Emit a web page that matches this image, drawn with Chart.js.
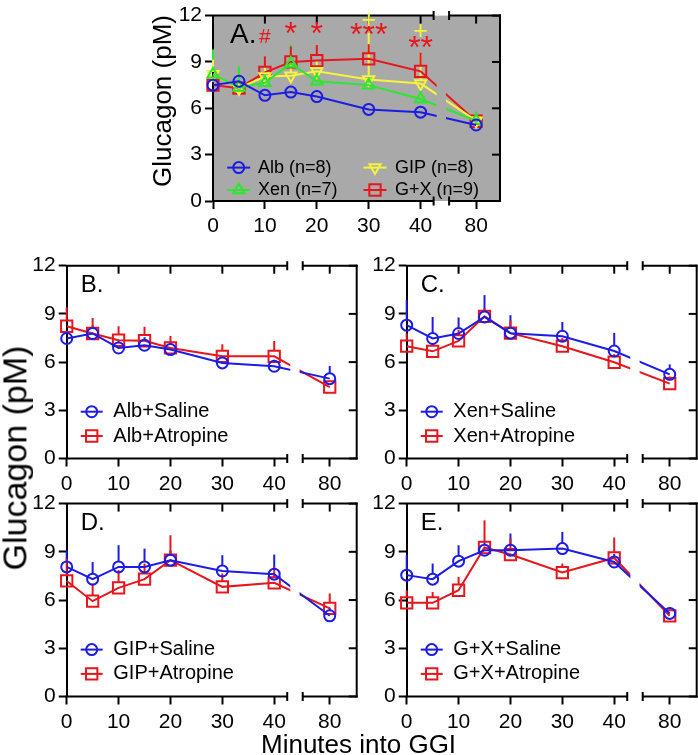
<!DOCTYPE html>
<html>
<head>
<meta charset="utf-8">
<script src="https://cdn.jsdelivr.net/npm/chart.js@4.4.1/dist/chart.umd.min.js"></script>
<style>
html,body{margin:0;padding:0;background:#fff;}
body{width:698px;height:755px;position:relative;overflow:hidden;}
canvas{position:absolute;}
.title{position:absolute;font-family:"Liberation Sans",Arial,Helvetica,sans-serif;color:#000;white-space:nowrap;line-height:1;}
</style>
</head>
<body>
<canvas id="chartA"></canvas>
<canvas id="chartB"></canvas>
<canvas id="chartC"></canvas>
<canvas id="chartD"></canvas>
<canvas id="chartE"></canvas>
<div class="title" id="yTitleA">Glucagon (pM)</div>
<div class="title" id="yTitleLow">Glucagon (pM)</div>
<div class="title" id="xTitle">Minutes into GGI</div>
<script>
// ---------------- DATA ----------------
const TIMES = [0, 5, 10, 15, 20, 30, 40, 80];
const X_TICKS = [0, 10, 20, 30, 40, 80];
const Y_TICKS = [0, 3, 6, 9, 12];

// Panel A
const albA = [7.5, 7.75, 6.84, 7.05, 6.76, 5.93, 5.75, 4.92];
const albA_err = [0.4, 0.4, 0.4, 0.4, 0.4, 0.4, 0.4, 0.4];
const xenA = [8.2, 7.35, 7.65, 8.9, 7.75, 7.5, 6.6, 5.2];
const xenA_err = [1.6, 1.35, 0.6, 1.2, 0.7, 0.6, 0.6, 0.6];
const gipA = [8.2, 7.3, 8.06, 8.1, 8.39, 7.87, 7.6, 5.2];
const gipA_err = [0.95, 0.5, 0.7, 0.9, 0.7, 3.0, 1.9, 0.4];
const gxA = [7.5, 7.3, 8.33, 9.0, 9.09, 9.2, 8.39, 5.16];
const gxA_err = [0.6, 0.5, 1.03, 1.0, 1.0, 0.95, 1.2, 0.4];
// significance marks in panel A: time, value level, text, series
const sigTimes = [10, 15, 20, 30, 40, 30, 40];
const sigLevels = [10.25, 10.19, 10.19, 10.07, 9.24, 11.2, 10.47];
const sigTexts = ['#', '*', '*', '***', '**', '+', '+'];
const sigSeries = ['gx', 'gx', 'gx', 'gx', 'gx', 'gip', 'gip'];

// Panel B
const albSal = [7.47, 7.78, 6.88, 7.05, 6.78, 5.95, 5.74, 4.97];
const albSal_err = [0.5, 0.5, 0.5, 0.5, 0.5, 0.4, 0.4, 0.79];
const albAtr = [8.23, 7.78, 7.36, 7.33, 6.88, 6.36, 6.36, 4.45];
const albAtr_err = [1.17, 0.97, 0.87, 0.87, 0.75, 0.75, 0.96, 0.4];
// Panel C
const xenSal = [8.3, 7.47, 7.78, 8.81, 7.8, 7.61, 6.69, 5.24];
const xenSal_err = [1.56, 1.34, 1.0, 1.36, 1.12, 0.89, 1.13, 0.62];
const xenAtr = [6.99, 6.67, 7.32, 8.85, 7.8, 6.99, 5.99, 4.66];
const xenAtr_err = [0.8, 0.5, 0.7, 0.5, 0.8, 0.5, 0.5, 0.45];
// Panel D
const gipSal = [8.06, 7.3, 8.06, 8.06, 8.48, 7.81, 7.61, 5.02];
const gipSal_err = [1.04, 1.07, 1.35, 1.14, 0.6, 0.98, 1.22, 0.5];
const gipAtr = [7.19, 5.93, 6.76, 7.3, 8.48, 6.82, 7.07, 5.48];
const gipAtr_err = [1.39, 1.1, 1.1, 0.97, 1.55, 0.83, 0.99, 0.93];
// Panel E
const gxSal = [7.55, 7.3, 8.42, 9.1, 9.1, 9.2, 8.37, 5.17];
const gxSal_err = [1.24, 0.97, 0.99, 0.5, 1.04, 1.04, 0.5, 0.4];
const gxAtr = [5.83, 5.83, 6.61, 9.27, 8.83, 7.71, 8.62, 5.02];
const gxAtr_err = [0.78, 0.67, 0.83, 1.69, 1.0, 0.56, 1.27, 0.4];

// ---------------- STYLE / LAYOUT ----------------
const FONT = '"Liberation Sans", Arial, Helvetica, sans-serif';
const BLUE = '#1c1ce6', RED = '#e8161c', GREEN = '#2ae82a', YELLOW = '#f4f43c';
const GRAY = '#a9a9a9';
const BREAK_POS = 50.7;         // axis position of the 80-min point after the break
const AXIS_GAP = [42.7, 45.3];  // axis break
const LINE_GAP = [43.1, 44.9];  // gap in connecting lines
function xPos(t) { return t > 40 ? BREAK_POS : t; }
function labelFor(v) {
  for (const t of X_TICKS) if (Math.abs(xPos(t) - v) < 1e-6) return String(t);
  return '';
}

function ds(label, values, errs, color, style, rot, radius) {
  return {
    label, errs,
    data: TIMES.map((t, i) => ({ x: xPos(t), y: values[i] })),
    borderColor: color, backgroundColor: 'rgba(0,0,0,0)',
    pointBorderColor: color, pointBackgroundColor: 'rgba(0,0,0,0)',
    pointStyle: style, pointRotation: rot || 0, pointRadius: radius,
    pointBorderWidth: 2, borderWidth: 2, tension: 0, clip: false, fill: false
  };
}

function markerTopOffset(d) {
  if (d.pointStyle === 'rect') return d.pointRadius * Math.SQRT1_2;
  if (d.pointStyle === 'triangle') return d.pointRotation ? d.pointRadius * 0.5 : d.pointRadius;
  return d.pointRadius;
}

function drawMarker(c, style, rot, r, x, y) {
  c.beginPath();
  if (style === 'circle') {
    c.arc(x, y, r, 0, Math.PI * 2);
  } else if (style === 'rect') {
    const s = r * Math.SQRT1_2;
    c.rect(x - s, y - s, 2 * s, 2 * s);
  } else if (style === 'triangle') {
    let a = (rot || 0) * Math.PI / 180;
    for (let k = 0; k < 3; k++) {
      const px = x + Math.sin(a) * r, py = y - Math.cos(a) * r;
      if (k === 0) c.moveTo(px, py); else c.lineTo(px, py);
      a += Math.PI * 2 / 3;
    }
    c.closePath();
  }
  c.stroke();
}

const framePlugin = {
  id: 'frame',
  beforeDraw(chart, args, o) {
    if (o.bg) {
      const a = chart.chartArea, c = chart.ctx;
      c.save(); c.fillStyle = o.bg;
      c.fillRect(a.left, a.top, a.right - a.left, a.bottom - a.top);
      c.restore();
    }
  },
  beforeDatasetsDraw(chart) {
    const c = chart.ctx, ys = chart.scales.y, xs = chart.scales.x;
    chart.data.datasets.forEach((d, i) => {
      const meta = chart.getDatasetMeta(i);
      c.save(); c.strokeStyle = d.borderColor; c.lineWidth = 2;
      meta.data.forEach((pt, j) => {
        const top = ys.getPixelForValue(d.data[j].y + d.errs[j]);
        const start = pt.y - markerTopOffset(d);
        if (top < start) { c.beginPath(); c.moveTo(pt.x, start); c.lineTo(pt.x, top); c.stroke(); }
      });
      c.restore();
    });
    const g1 = xs.getPixelForValue(LINE_GAP[0]), g2 = xs.getPixelForValue(LINE_GAP[1]);
    c.save();
    c.beginPath();
    c.rect(0, 0, g1, chart.height);
    c.rect(g2, 0, chart.width - g2, chart.height);
    c.clip();
  },
  afterDatasetsDraw(chart) { chart.ctx.restore(); },
  afterDraw(chart, args, o) {
    const c = chart.ctx, a = chart.chartArea, xs = chart.scales.x, ys = chart.scales.y;
    const g1 = xs.getPixelForValue(AXIS_GAP[0]), g2 = xs.getPixelForValue(AXIS_GAP[1]);
    c.save();
    c.strokeStyle = '#000'; c.lineWidth = 2; c.lineCap = 'butt';
    // bottom & top axes with break
    [a.bottom, a.top].forEach((y, idx) => {
      c.beginPath();
      c.moveTo(a.left - 1, y); c.lineTo(g1, y);
      c.moveTo(g2, y); c.lineTo(a.right + 1, y);
      c.moveTo(g1 - 1, y - 4.5); c.lineTo(g1 - 1, y + 4.5);
      c.moveTo(g2 + 1, y - 4.5); c.lineTo(g2 + 1, y + 4.5);
      c.stroke();
      if (idx === 1) {
        X_TICKS.forEach(t => {
          const x = xs.getPixelForValue(xPos(t));
          if (t === 0) return;
          c.beginPath(); c.moveTo(x, y); c.lineTo(x, y + 8); c.stroke();
        });
      }
    });
    // right axis with inward ticks
    c.beginPath(); c.moveTo(a.right, a.top - 1); c.lineTo(a.right, a.bottom + 1); c.stroke();
    Y_TICKS.forEach(v => {
      const y = ys.getPixelForValue(v);
      c.beginPath(); c.moveTo(a.right - 8, y); c.lineTo(a.right, y); c.stroke();
    });
    // panel label
    c.fillStyle = '#000';
    c.font = o.labelSize + 'px ' + FONT;
    c.textBaseline = 'alphabetic'; c.textAlign = 'left';
    c.fillText(o.label, a.left + o.labelDx, a.top + o.labelDy);
    // legend
    c.font = o.legendSize + 'px ' + FONT;
    c.textBaseline = 'middle';
    chart.data.datasets.forEach((d, i) => {
      const it = o.legendItems[i];
      const mx = a.left + it[0], ty = a.top + it[2], tx = a.left + it[1];
      c.strokeStyle = d.borderColor; c.lineWidth = 2;
      c.beginPath(); c.moveTo(mx - o.legendHalf, ty); c.lineTo(mx + o.legendHalf, ty); c.stroke();
      drawMarker(c, d.pointStyle, d.pointRotation, d.pointRadius, mx, ty);
      c.fillStyle = '#000';
      c.fillText(d.label, tx, ty);
    });
    // significance marks
    if (o.sig) {
      c.textAlign = 'center'; c.textBaseline = 'alphabetic';
      sigTimes.forEach((t, k) => {
        const isGip = sigSeries[k] === 'gip';
        const txt = sigTexts[k];
        const size = txt === '#' ? 21 : (txt === '+' ? 25 : 32);
        c.font = size + 'px ' + FONT;
        c.fillStyle = isGip ? YELLOW : RED;
        c.fillText(txt, xs.getPixelForValue(xPos(t)), ys.getPixelForValue(sigLevels[k]));
      });
    }
    c.restore();
  }
};

function build(id, cv, ar, datasets, frame) {
  const el = document.getElementById(id);
  el.width = cv[2]; el.height = cv[3];
  el.style.left = cv[0] + 'px'; el.style.top = cv[1] + 'px';
  el.style.width = cv[2] + 'px'; el.style.height = cv[3] + 'px';
  const leftW = ar[0] - cv[0], topP = ar[1] - cv[1], rightP = cv[0] + cv[2] - ar[2], botH = cv[1] + cv[3] - ar[3];
  return new Chart(el, {
    type: 'line',
    data: { datasets },
    options: {
      responsive: false, animation: false, devicePixelRatio: 1,
      layout: { padding: { left: 0, top: topP, right: rightP, bottom: 0 }, autoPadding: false },
      plugins: { legend: { display: false }, tooltip: { enabled: false }, frame },
      scales: {
        x: {
          type: 'linear', min: 0, max: frame.xMax,
          afterBuildTicks: s => { s.ticks = X_TICKS.map(t => ({ value: xPos(t) })); },
          afterFit: s => { s.height = botH; },
          ticks: { callback: v => labelFor(v), font: { family: FONT, size: 21 }, color: '#000', padding: 5, maxRotation: 0, autoSkip: false },
          grid: { display: true, drawOnChartArea: false, drawTicks: true, tickLength: 8, tickWidth: 2, tickColor: '#000' },
          border: { display: false }
        },
        y: {
          type: 'linear', min: 0, max: 12,
          afterBuildTicks: s => { s.ticks = Y_TICKS.map(v => ({ value: v })); },
          afterFit: s => { s.width = leftW; },
          ticks: { font: { family: FONT, size: 21 }, color: '#000', padding: 3 },
          grid: { display: true, drawOnChartArea: false, drawTicks: true, tickLength: 8, tickWidth: 2, tickColor: '#000' },
          border: { display: true, color: '#000', width: 2 }
        }
      }
    },
    plugins: [framePlugin]
  });
}

const lowLegend = [[25, 46.6, 146], [25, 46.6, 170.3]];
function lowFrame(label) {
  return { xMax: 55.9, label, labelSize: 24, labelDx: 14, labelDy: 26, legendSize: 20, legendHalf: 11, legendItems: lowLegend };
}

build('chartA', [165, 0, 345, 240], [213, 7.3, 500, 201], [
  ds('Alb (n=8)', albA, albA_err, BLUE, 'circle', 0, 5.5),
  ds('Xen (n=7)', xenA, xenA_err, GREEN, 'triangle', 0, 6.5),
  ds('GIP (n=8)', gipA, gipA_err, YELLOW, 'triangle', 180, 6.5),
  ds('G+X (n=9)', gxA, gxA_err, RED, 'rect', 0, 8)
], { xMax: 55.3, bg: GRAY, label: 'A.', labelSize: 28, labelDx: 17, labelDy: 27.7, legendSize: 18, legendHalf: 11.5,
     legendItems: [[25.7, 45, 152], [25.7, 45, 174.4], [162, 182, 152], [162, 182, 174.4]], sig: true });

build('chartB', [15, 250, 350, 248], [66.7, 265.7, 356.7, 458.5], [
  ds('Alb+Saline', albSal, albSal_err, BLUE, 'circle', 0, 5.5),
  ds('Alb+Atropine', albAtr, albAtr_err, RED, 'rect', 0, 8)
], lowFrame('B.'));

build('chartC', [360, 250, 338, 248], [406.7, 265.7, 696.7, 458.5], [
  ds('Xen+Saline', xenSal, xenSal_err, BLUE, 'circle', 0, 5.5),
  ds('Xen+Atropine', xenAtr, xenAtr_err, RED, 'rect', 0, 8)
], lowFrame('C.'));

build('chartD', [15, 488, 350, 246], [66.7, 503.3, 356.7, 696.5], [
  ds('GIP+Saline', gipSal, gipSal_err, BLUE, 'circle', 0, 5.5),
  ds('GIP+Atropine', gipAtr, gipAtr_err, RED, 'rect', 0, 8)
], lowFrame('D.'));

build('chartE', [360, 488, 338, 246], [406.7, 503.3, 696.7, 696.5], [
  ds('G+X+Saline', gxSal, gxSal_err, BLUE, 'circle', 0, 5.5),
  ds('G+X+Atropine', gxAtr, gxAtr_err, RED, 'rect', 0, 8)
], lowFrame('E.'));

function placeTitle(id, cx, cy, size, rotate) {
  const el = document.getElementById(id);
  el.style.fontSize = size + 'px';
  const w = el.offsetWidth, h = el.offsetHeight;
  el.style.left = (cx - w / 2) + 'px';
  el.style.top = (cy - h / 2) + 'px';
  if (rotate) el.style.transform = 'rotate(-90deg)';
}
placeTitle('yTitleA', 161.5, 100.7, 26, true);
placeTitle('yTitleLow', 14, 458, 34, true);
placeTitle('xTitle', 358.5, 744, 26, false);
</script>
</body>
</html>
